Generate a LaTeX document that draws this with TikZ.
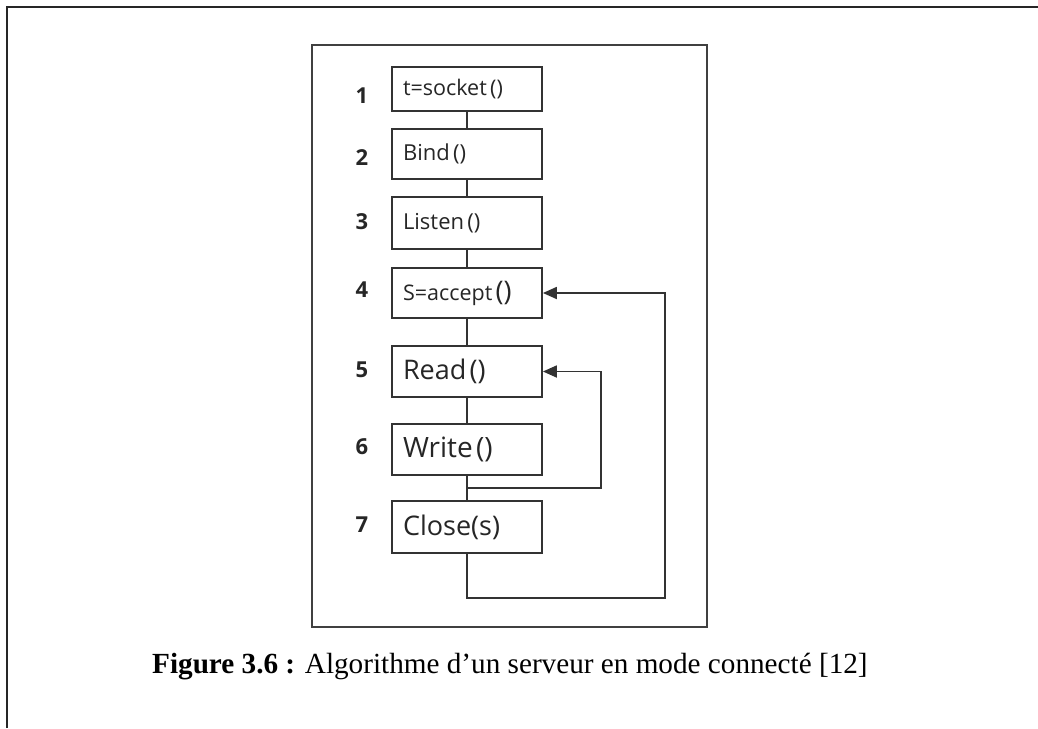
\documentclass[tikz,border=0pt]{standalone}
\usepackage{fontspec}
\setmainfont{Liberation Serif}
\newfontfamily\boxfont{Open Sans}
\usetikzlibrary{arrows.meta,calc}
\begin{document}
\begin{tikzpicture}[x=1pt,y=-1pt,
  frameline/.style={line width=2pt,draw=black!85},
  stepbox/.style={draw=black!80,line width=1.8pt,rectangle,text width=128pt,
    align=left,inner xsep=11pt,inner ysep=0pt,font=\boxfont,text=black!85},
  num/.style={font=\boxfont\bfseries\fontsize{22}{26}\selectfont,text=black!85,inner sep=0pt},
  link/.style={draw=black!80,line width=1.8pt},
  loopback/.style={link,-{Triangle[length=14pt,width=12pt]}},
]
\useasboundingbox (0,0) rectangle (1038,728);
\fill[white] (0,0) rectangle (1038,728);

% page frame (open to the right and bottom) and figure frame
\draw[frameline] (7,728) -- (7,7) -- (1038,7);
\draw[frameline,draw=black!75] (312,45) rectangle (707,627);

% steps of the server
\node[stepbox,minimum height=44pt] (b1) at (467,89)  {\fontsize{21.5}{24}\selectfont t=socket ()};
\node[stepbox,minimum height=50pt] (b2) at (467,154) {\fontsize{22}{24}\selectfont Bind ()};
\node[stepbox,minimum height=52pt] (b3) at (467,223) {\fontsize{22}{24}\selectfont Listen ()};
\node[stepbox,minimum height=50pt] (b4) at (467,293) {\fontsize{21.5}{24}\selectfont S=accept {\fontsize{27}{30}\selectfont ()}};
\node[stepbox,minimum height=51pt] (b5) at (467,371.5) {\fontsize{27}{30}\selectfont Read ()};
\node[stepbox,minimum height=51pt] (b6) at (467,449.5) {\fontsize{28}{30}\selectfont Write ()};
\node[stepbox,minimum height=52pt] (b7) at (467,527) {\fontsize{27}{30}\selectfont Close(s)};

% step numbers
\node[num] (n1) at (362,96)  {1};
\node[num] (n2) at (362,158) {2};
\node[num] (n3) at (362,222) {3};
\node[num] (n4) at (362,290) {4};
\node[num] (n5) at (362,370) {5};
\node[num] (n6) at (362,447) {6};
\node[num] (n7) at (362,525) {7};

% sequence
\draw[link] (b1) -- (b2);
\draw[link] (b2) -- (b3);
\draw[link] (b3) -- (b4);
\draw[link] (b4) -- (b5);
\draw[link] (b5) -- (b6);
\draw[link] (b6) -- (b7);

% loops back to Read and to accept
\coordinate (j) at ($(b6.south)!0.5!(b7.north)$);
\draw[loopback] (j) -| ([xshift=58pt]b5.east) -- (b5.east);
\draw[loopback] (b7.south) -- ++(0,44) -| ([xshift=122pt]b4.east) -- (b4.east);

% caption
\node[anchor=base west,inner sep=0pt,font=\fontsize{29.2}{33}\selectfont] (cap) at (152,673)
  {\textbf{Figure 3.6 :} Algorithme d’un serveur en mode connecté [12]};
\end{tikzpicture}
\end{document}
